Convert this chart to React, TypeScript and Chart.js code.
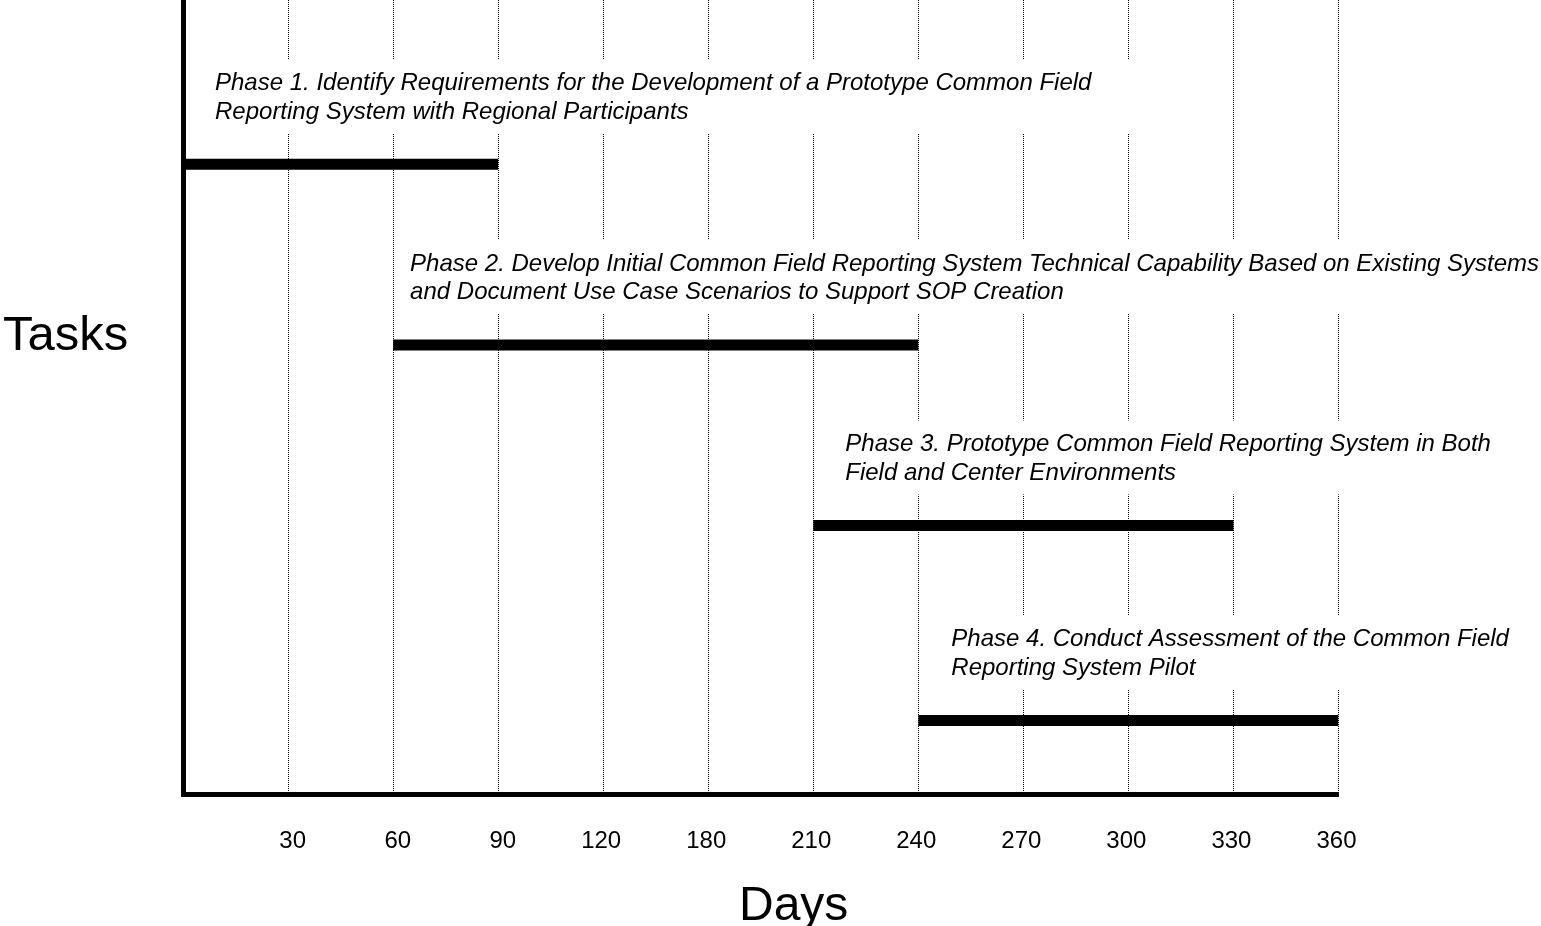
import React, { useEffect, useRef } from 'react';
import { Chart, registerables } from 'chart.js';

Chart.register(...registerables);

// Axis positions (days) — note the axis skips 150 and goes 120 -> 180
const axisDays = [0, 30, 60, 90, 120, 180, 210, 240, 270, 300, 330, 360];
const tickLabels = ['', '30', '60', '90', '120', '180', '210', '240', '270', '300', '330', '360'];

// Phases
const phaseStarts = [0, 60, 210, 240];
const phaseEnds = [90, 240, 330, 360];
const phaseRows = [0.91, 1.91, 2.91, 3.99];
const phaseLines = [
  [
    'Phase 1. Identify Requirements for the Development of a Prototype Common Field',
    'Reporting System with Regional Participants',
  ],
  [
    'Phase 2. Develop Initial Common Field Reporting System Technical Capability Based on Existing Systems',
    'and Document Use Case Scenarios to Support SOP Creation',
  ],
  [
    'Phase 3. Prototype Common Field Reporting System in Both',
    'Field and Center Environments',
  ],
  [
    'Phase 4. Conduct Assessment of the Common Field',
    'Reporting System Pilot',
  ],
];

const yTitle = 'Tasks';
const xTitle = 'Days';

// layout-only values
const labelOffsets = [32, 17, 32, 33];
const FONT = '"Liberation Sans", Arial, Helvetica, sans-serif';

const toIndex = (d: number) => axisDays.indexOf(d);

const labelPlugin = {
  id: 'phaseLabels',
  beforeDatasetsDraw(chart: any) {
    const { ctx, scales } = chart;
    const x = scales.x;
    const y = scales.y;
    ctx.save();
    ctx.font = `italic 24px ${FONT}`;
    phaseLines.forEach((lines, i) => {
      const tx = x.getPixelForValue(toIndex(phaseStarts[i])) + labelOffsets[i];
      const by = y.getPixelForValue(phaseRows[i]);
      const w = Math.max(...lines.map((l) => ctx.measureText(l).width));
      ctx.fillStyle = '#ffffff';
      ctx.fillRect(tx - 12, by - 105, w + 62, 74);
      ctx.fillStyle = '#000000';
      ctx.textAlign = 'left';
      ctx.textBaseline = 'alphabetic';
      lines.forEach((l, j) => ctx.fillText(l, tx, by - 74 + j * 28.5));
    });
    ctx.restore();
  },
  afterDraw(chart: any) {
    const { ctx } = chart;
    ctx.save();
    ctx.fillStyle = '#000000';
    ctx.textAlign = 'left';
    ctx.textBaseline = 'alphabetic';
    ctx.font = `49px ${FONT}`;
    ctx.fillText(yTitle, 3, 350);
    ctx.font = `48px ${FONT}`;
    ctx.fillText(xTitle, 739, 920);
    ctx.restore();
  },
};

export default function App() {
  const canvasRef = useRef<HTMLCanvasElement | null>(null);

  useEffect(() => {
    if (!canvasRef.current) return;
    const chart = new Chart(canvasRef.current, {
      type: 'line',
      data: {
        datasets: phaseStarts.map((s, i) => ({
          label: `Phase ${i + 1}`,
          data: [
            { x: toIndex(s), y: phaseRows[i] },
            { x: toIndex(phaseEnds[i]), y: phaseRows[i] },
          ],
          borderColor: '#000000',
          backgroundColor: '#000000',
          borderWidth: 11,
          borderCapStyle: 'butt' as const,
          pointRadius: 0,
          pointHoverRadius: 0,
          fill: false,
          tension: 0,
        })),
      },
      options: {
        responsive: false,
        animation: false,
        events: [],
        layout: { padding: { left: 183, right: 202.5, top: 0, bottom: 0 } },
        plugins: {
          legend: { display: false },
          tooltip: { enabled: false },
        },
        scales: {
          x: {
            type: 'linear',
            min: 0,
            max: 11,
            afterFit: (s: any) => {
              s.height = 131.5;
            },
            grid: { color: '#000000', lineWidth: 1, drawTicks: false },
            border: { display: true, color: '#000000', width: 5, dash: [1, 1] },
            ticks: {
              stepSize: 1,
              maxTicksLimit: 20,
              autoSkip: false,
              maxRotation: 0,
              align: 'end',
              labelOffset: 18,
              padding: 32,
              color: '#000000',
              font: { family: FONT, size: 24 },
              callback: (v: any) => tickLabels[v as number] ?? '',
            },
          },
          y: {
            type: 'linear',
            min: 0,
            max: 4.4,
            reverse: true,
            afterFit: (s: any) => {
              s.width = 0;
            },
            grid: { display: false },
            border: { display: true, color: '#000000', width: 5 },
            ticks: { display: false },
          },
        },
      } as any,
      plugins: [labelPlugin],
    });
    return () => chart.destroy();
  }, []);

  return (
    <div style={{ position: 'fixed', left: 0, top: 0, width: 1541, height: 926, background: '#ffffff' }}>
      <canvas ref={canvasRef} width={1541} height={926} style={{ display: 'block' }} />
    </div>
  );
}
